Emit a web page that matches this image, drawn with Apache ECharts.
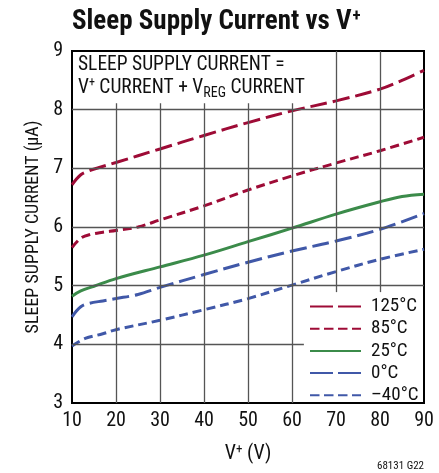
<!DOCTYPE html>
<html><head><meta charset="utf-8">
<script src="https://cdn.jsdelivr.net/npm/echarts@6/dist/echarts.min.js"></script>
<style>html,body{margin:0;padding:0;background:#fff}#c{width:439px;height:473px}</style>
</head><body><div id="c"></div>
<script>
const FONT = '"Liberation Sans Narrow","Roboto Condensed","Liberation Sans",sans-serif';
const seriesNames = ['125°C', '85°C', '25°C', '0°C', '–40°C'];
const xTicks = [10, 20, 30, 40, 50, 60, 70, 80, 90];
const yTicks = [3, 4, 5, 6, 7, 8, 9];
const vPlus125 = [10, 12, 14, 16, 20, 30, 40, 50, 60, 70, 80, 85, 90];
const i125 = [6.72, 6.89, 6.96, 7.01, 7.10, 7.33, 7.56, 7.78, 7.98, 8.15, 8.35, 8.50, 8.67];
const vPlus85 = [10, 12, 14, 17, 20, 25, 30, 40, 50, 60, 70, 80, 90];
const i85 = [5.65, 5.81, 5.87, 5.91, 5.94, 6.00, 6.12, 6.36, 6.63, 6.87, 7.09, 7.30, 7.53];
const vPlus25 = [10, 12, 15, 20, 30, 40, 50, 60, 70, 80, 85, 90];
const i25 = [4.82, 4.91, 4.99, 5.12, 5.32, 5.52, 5.75, 5.98, 6.22, 6.43, 6.52, 6.56];
const vPlus0 = [10, 12, 14, 17, 20, 25, 30, 40, 50, 60, 70, 80, 90];
const i0 = [4.47, 4.64, 4.70, 4.74, 4.78, 4.85, 4.97, 5.19, 5.40, 5.59, 5.76, 5.96, 6.23];
const vPlusM40 = [10, 13, 17, 20, 30, 40, 50, 60, 70, 80, 90];
const iM40 = [3.97, 4.10, 4.18, 4.25, 4.41, 4.59, 4.78, 5.01, 5.24, 5.45, 5.62];

// extents (in axis units) of the note box and the legend box that hide the grid
const noteBoxRight = 61.8, noteBoxBottom = 8.11;
const legendBoxLeft = 62.7, legendBoxTop = 4.89;

const RED = '#9e0b36', GREEN = '#3b8b4a', BLUE = '#4058a8';
const pair = (xs, ys) => xs.map((x, i) => [x, ys[i]]);
const mk = (name, xs, ys, color, dash) => ({
  name, type: 'line', data: pair(xs, ys), smooth: 0.35, symbol: 'none', showSymbol: false,
  lineStyle: { color, width: 3, type: dash }, itemStyle: { color }, z: 3
});

// grid lines, interrupted where the note and legend boxes sit
const gridSegs = [];
xTicks.slice(1, -1).forEach(x => {
  let y0 = 3, y1 = 9;
  if (x < noteBoxRight) y1 = noteBoxBottom;
  if (x > legendBoxLeft) y0 = legendBoxTop;
  gridSegs.push([{ coord: [x, y0] }, { coord: [x, y1] }]);
});
yTicks.slice(1, -1).forEach(y => {
  let x1 = 90;
  if (y < legendBoxTop) x1 = legendBoxLeft;
  gridSegs.push([{ coord: [10, y] }, { coord: [x1, y] }]);
});

const chart = echarts.init(document.getElementById('c'));
chart.setOption({
  animation: false,
  backgroundColor: '#fff',
  grid: { left: 72, right: 15, top: 51, bottom: 70, show: true, borderColor: '#000', borderWidth: 2, backgroundColor: 'transparent' },
  title: [{
    text: '{b|Sleep Supply Current vs V}{s|+}', left: 67, top: 3,
    textStyle: { rich: {
      b: { fontFamily: FONT, fontWeight: 'bold', fontSize: 27, color: '#111' },
      s: { fontFamily: FONT, fontWeight: 'bold', fontSize: 17, color: '#111', verticalAlign: 'top', padding: [0, 0, 12, 1] }
    } }
  }, {
    text: '{a|SLEEP SUPPLY CURRENT =}\n{a|V}{s|+}{a| CURRENT + V}{r|REG}{a| CURRENT}',
    left: 73, top: 52, padding: [2, 4, 4, 5],
    textStyle: { fontWeight: 'normal', lineHeight: 23, rich: {
      a: { fontFamily: FONT, fontWeight: 'normal', fontSize: 19.5, color: '#111', lineHeight: 23 },
      s: { fontFamily: FONT, fontWeight: 'normal', fontSize: 12, color: '#111', verticalAlign: 'top', padding: [0, 0, 9, 0], lineHeight: 23 },
      r: { fontFamily: FONT, fontWeight: 'normal', fontSize: 14, color: '#111', verticalAlign: 'bottom', padding: [6, 0, 0, 0], lineHeight: 23 }
    } }
  }],
  xAxis: {
    type: 'value', min: 10, max: 90, interval: 10,
    name: '{a|V}{s|+}{a| (V)}', nameLocation: 'middle', nameGap: 40,
    nameTextStyle: { rich: {
      a: { fontFamily: FONT, fontSize: 20, color: '#111' },
      s: { fontFamily: FONT, fontSize: 13, color: '#111', verticalAlign: 'top', padding: [0, 0, 9, 0] }
    } },
    axisLine: { show: false }, axisTick: { show: false }, splitLine: { show: false },
    axisLabel: { fontFamily: FONT, fontSize: 20, color: '#111', margin: 8, formatter: v => xTicks.includes(v) ? String(v) : '' }
  },
  yAxis: {
    type: 'value', min: 3, max: 9, interval: 1,
    name: 'SLEEP SUPPLY CURRENT (µA)', nameLocation: 'middle', nameGap: 27,
    nameTextStyle: { fontFamily: FONT, fontSize: 18, color: '#111' },
    axisLine: { show: false }, axisTick: { show: false }, splitLine: { show: false },
    axisLabel: { fontFamily: FONT, fontSize: 20, color: '#111', margin: 9, formatter: v => yTicks.includes(v) ? String(v) : '' }
  },
  legend: {
    orient: 'vertical', left: 304, top: 292, padding: [5, 2, 5, 5],
    itemWidth: 51, itemHeight: 12, itemGap: 3.2,
    itemStyle: { opacity: 0 },
    textStyle: { fontFamily: FONT, fontSize: 19, lineHeight: 18, color: '#111', padding: [0, 0, 0, 5] },
    data: [
      { name: seriesNames[0], lineStyle: { type: [23, 5] } },
      { name: seriesNames[1], lineStyle: { type: [9.5, 4.5] } },
      { name: seriesNames[2] },
      { name: seriesNames[3], lineStyle: { type: [23, 5] } },
      { name: seriesNames[4], lineStyle: { type: [9.5, 4.5] } }
    ]
  },
  graphic: { elements: [
    { type: 'text', right: 15, top: 461, style: { text: '68131 G22', fontFamily: FONT, fontSize: 11, fill: '#111' } }
  ] },
  series: [
    { name: 'grid', type: 'line', data: [], z: 1, silent: true,
      markLine: { silent: true, symbol: 'none', label: { show: false },
        lineStyle: { color: '#555', width: 1.3, type: 'solid' }, emphasis: { disabled: true }, data: gridSegs } },
    mk('125°C', vPlus125, i125, RED, [17, 6]),
    mk('85°C', vPlus85, i85, RED, [9, 5]),
    mk('25°C', vPlus25, i25, GREEN, 'solid'),
    mk('0°C', vPlus0, i0, BLUE, [17, 6]),
    mk('–40°C', vPlusM40, iM40, BLUE, [9, 5])
  ]
});
</script></body></html>
